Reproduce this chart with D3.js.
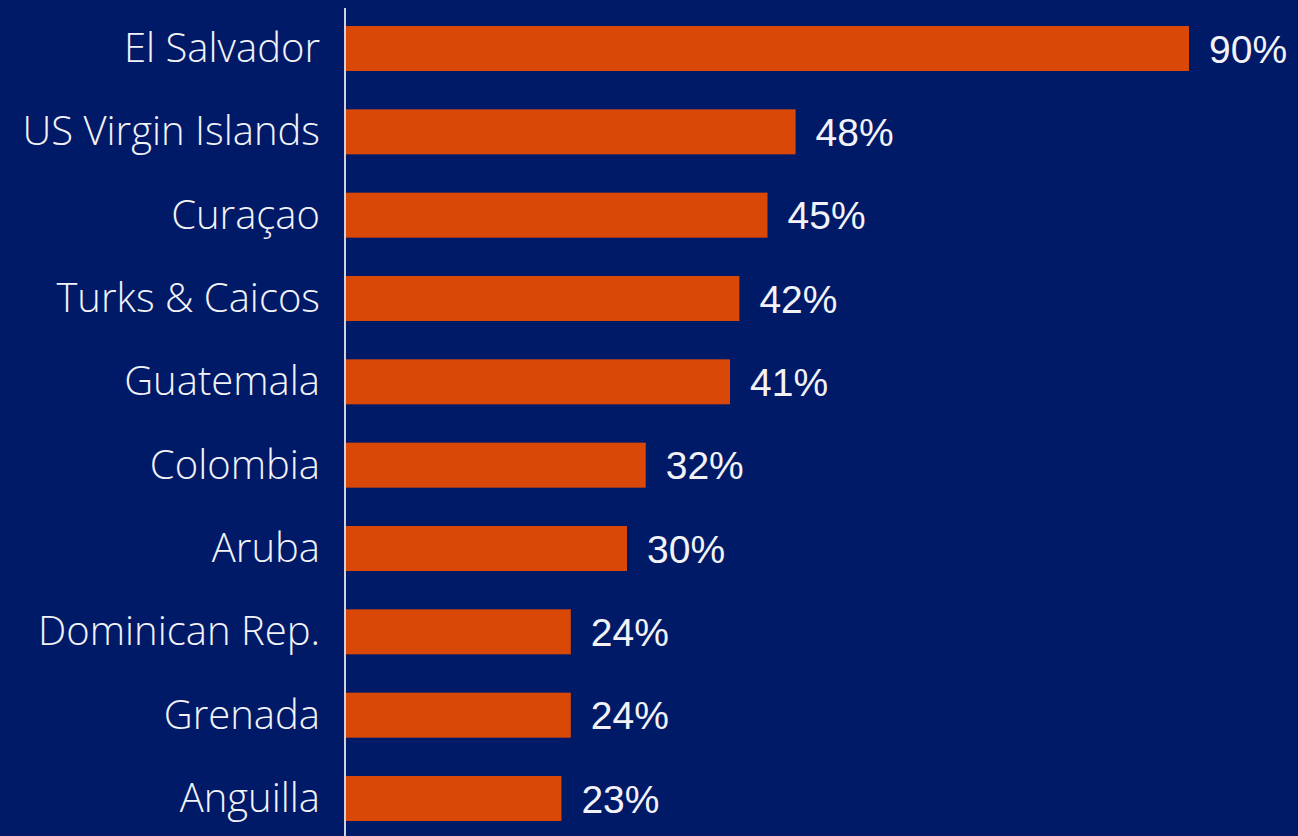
<!DOCTYPE html>
<html>
<head>
<meta charset="utf-8">
<script src="https://d3js.org/d3.v7.min.js"></script>
<style>
  body { margin: 0; background: #001a68; }
</style>
</head>
<body>
<div id="chart"></div>
<script>
// data
var countries = ['El Salvador', 'US Virgin Islands', 'Curaçao', 'Turks & Caicos', 'Guatemala',
                 'Colombia', 'Aruba', 'Dominican Rep.', 'Grenada', 'Anguilla'];
var shares = [90, 48, 45, 42, 41, 32, 30, 24, 24, 23];

var width = 1298, height = 836;
var bg = '#001a68', barColor = '#d94806', textColor = '#f2f2f7';

var svg = d3.select('#chart')
  .append('svg')
    .attr('width', width)
    .attr('height', height)
    .style('display', 'block');

svg.append('rect')
  .attr('width', width)
  .attr('height', height)
  .attr('fill', bg);

var x = d3.scaleLinear()
  .domain([0, d3.max(shares)])
  .range([346, 1189]);

var y = d3.scaleBand()
  .domain(countries)
  .range([26, 821])
  .paddingInner(0.46)
  .paddingOuter(0);

// category labels
var yAxis = svg.append('g')
  .attr('transform', 'translate(345,0)')
  .call(d3.axisLeft(y).tickSize(0).tickPadding(25));
yAxis.select('.domain').remove();
yAxis.selectAll('text')
  .attr('fill', textColor)
  .style('font-family', '"Open Sans", Lato, sans-serif')
  .style('font-weight', 300)
  .style('font-size', '40px')
  .attr('dy', '0.34em');

// bars
svg.append('g')
  .selectAll('rect')
  .data(shares)
  .enter().append('rect')
    .attr('x', x(0))
    .attr('y', function(d, i) { return y(countries[i]); })
    .attr('width', function(d) { return x(d) - x(0); })
    .attr('height', y.bandwidth())
    .attr('fill', barColor);

// value labels
svg.append('g')
  .selectAll('text')
  .data(shares)
  .enter().append('text')
    .attr('x', function(d) { return x(d) + 20; })
    .attr('y', function(d, i) { return y(countries[i]) + y.bandwidth() / 2; })
    .attr('dy', '0.36em')
    .attr('fill', textColor)
    .style('font-family', 'Arial, "Liberation Sans", sans-serif')
    .style('font-size', '39px')
    .text(function(d) { return d + '%'; });

// vertical axis line
svg.append('line')
  .attr('x1', 345).attr('x2', 345)
  .attr('y1', 8).attr('y2', height)
  .attr('stroke', '#cfd2dc')
  .attr('stroke-width', 2);
</script>
</body>
</html>
